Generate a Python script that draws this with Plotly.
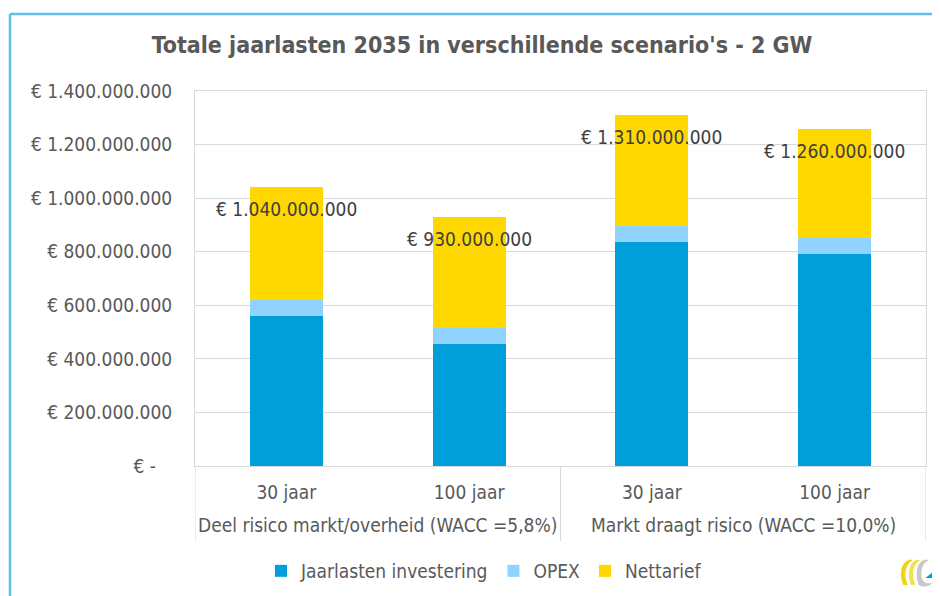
import plotly.graph_objects as go

# ---- data ----
group_names = ["Deel risico markt/overheid (WACC =5,8%)", "Markt draagt risico (WACC =10,0%)"]
groups = [group_names[0], group_names[0], group_names[1], group_names[1]]
periods = ["30 jaar", "100 jaar", "30 jaar", "100 jaar"]
investering = [560e6, 455e6, 835e6, 790e6]
opex = [60e6, 60e6, 60e6, 60e6]
nettarief = [420e6, 415e6, 415e6, 410e6]
totals = [1040e6, 930e6, 1310e6, 1260e6]
total_labels = ["€ 1.040.000.000", "€ 930.000.000", "€ 1.310.000.000", "€ 1.260.000.000"]
ytick_vals = [0, 200e6, 400e6, 600e6, 800e6, 1000e6, 1200e6, 1400e6]
ytick_text = ["€ -\u00a0\u00a0\u00a0", "€ 200.000.000", "€ 400.000.000", "€ 600.000.000",
              "€ 800.000.000", "€ 1.000.000.000", "€ 1.200.000.000", "€ 1.400.000.000"]

FONT = "DejaVu Sans Condensed, DejaVu Sans, sans-serif"
TXT = "#595959"
GRID = "#D9D9D9"
OFF = 8  # page body margin
W, H = 940 - OFF, 596 - OFF
# plot area in page pixels: left 195, right 926, top 91, bottom 466
PL, PR, PT, PB = 195, 926, 91, 466
L, T = PL - OFF, PT - OFF
R, B = W - (PR - OFF), H - (PB - OFF)
PW, PH = PR - PL, PB - PT

def px(xp):  # page x -> paper
    return (xp - PL) / PW

def py(yp):  # page y -> paper
    return (PB - yp) / PH

keys = [g + " | " + p for g, p in zip(groups, periods)]
fig = go.Figure()
fig.add_trace(go.Bar(x=keys, y=investering, name="Jaarlasten investering", marker_color="#009FDA",
                     marker_line_width=0))
fig.add_trace(go.Bar(x=keys, y=opex, name="OPEX", marker_color="#8FD3FE", marker_line_width=0))
fig.add_trace(go.Bar(x=keys, y=nettarief, name="Nettarief", marker_color="#FFD800", marker_line_width=0))

for i, (t, lab) in enumerate(zip(totals, total_labels)):
    fig.add_annotation(x=i, y=t, xref="x", yref="y", text=lab, showarrow=False,
                       yshift=-22, font=dict(family=FONT, size=19, color="#404040"))

# group labels and dividers of the two-level category axis
n_per_group = [groups.count(g) for g in group_names]
start = 0
for g, n in zip(group_names, n_per_group):
    fig.add_annotation(x=start + (n - 1) / 2, y=py(525), xref="x", yref="paper", text=g,
                       showarrow=False, yanchor="middle", font=dict(family=FONT, size=19, color=TXT))
    start += n
bounds = [-0.5]
acc = -0.5
for n in n_per_group:
    acc += n
    bounds.append(acc)
for bnd in bounds:
    fig.add_shape(type="line", xref="x", yref="paper", x0=bnd, x1=bnd, y0=0, y1=py(541),
                  line=dict(color=GRID, width=1))

# outer chart border (light blue, left and top)
fig.add_shape(type="line", xref="paper", yref="paper", x0=px(10), x1=px(945), y0=py(14), y1=py(14),
              line=dict(color="#5BC3EA", width=2.5))
fig.add_shape(type="line", xref="paper", yref="paper", x0=px(10), x1=px(10), y0=py(14), y1=py(600),
              line=dict(color="#5BC3EA", width=2.5))

logo_svg = (
    "data:image/svg+xml;utf8,"
    "<svg xmlns='http://www.w3.org/2000/svg' width='48' height='40' viewBox='0 0 48 40'>"
    "<path d='M16 4 C6 6 2 20 8 34 L13 34 C8 22 10 10 19 5 Z' fill='%23F2D40A'/>"
    "<path d='M25 4 C15 6 12 20 17 34 L22 34 C17 22 19 10 28 5 Z' fill='%23F5E04A'/>"
    "<path d='M34 4 C24 6 21 20 26 34 C30 37 38 36 42 32 C34 33 29 30 29 22 C29 12 33 7 38 5 Z' fill='%23C8C8C8'/>"
    "<path d='M34 26 L46 16 L46 26 Z' fill='%2300A0E0'/>"
    "</svg>"
)
fig.add_layout_image(source=logo_svg, xref="paper", yref="paper", x=px(896), y=py(556),
                     sizex=42 / PW, sizey=34 / PH, xanchor="left", yanchor="top", layer="above")

fig.update_layout(
    width=W, height=H,
    margin=dict(l=L, r=R, t=T, b=B, autoexpand=False),
    paper_bgcolor="white", plot_bgcolor="white",
    barmode="stack", bargap=0.6,
    font=dict(family=FONT, size=19, color=TXT),
    title=dict(text="<b>Totale jaarlasten 2035 in verschillende scenario's - 2 GW</b>",
               x=(482 - OFF) / W, xanchor="center", y=1 - (45 - OFF) / H, yanchor="middle",
               yref="container", font=dict(family=FONT, size=23, color=TXT)),
    legend=dict(orientation="h", x=px(484), xanchor="center", y=py(571), yanchor="middle",
                font=dict(family=FONT, size=19, color=TXT), traceorder="normal",
                itemwidth=30, tracegroupgap=0, bgcolor="rgba(0,0,0,0)"),
    showlegend=True,
)
fig.update_yaxes(range=[0, 1400e6], tickvals=ytick_vals, ticktext=ytick_text,
                 showgrid=True, gridcolor=GRID, gridwidth=1,
                 showline=True, linecolor=GRID, linewidth=1, mirror=True,
                 ticks="", ticklabelstandoff=18, zeroline=False,
                 tickfont=dict(family=FONT, size=19, color=TXT))
fig.update_xaxes(type="category", tickvals=keys, ticktext=periods, range=[-0.5, len(keys) - 0.5],
                 showline=True, linecolor=GRID, linewidth=1, mirror=True, showgrid=False,
                 ticks="", ticklabelstandoff=9,
                 tickfont=dict(family=FONT, size=19, color=TXT))

fig.write_html("out.html")
